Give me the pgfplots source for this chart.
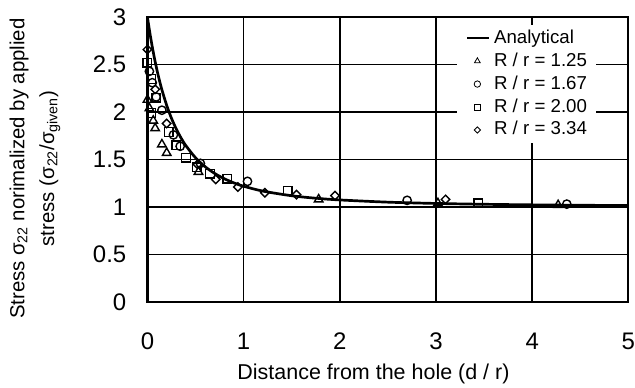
\documentclass[border=0pt]{standalone}
\usepackage{fontspec}
\setmainfont{Liberation Sans}
\usepackage{pgfplots}
\pgfplotsset{compat=1.18}
\begin{document}
\begin{tikzpicture}
\begin{axis}[
  width=481.6pt, height=285pt, scale only axis,
  xmin=0, xmax=5, ymin=0, ymax=3,
  xtick={0,1,2,3,4,5},
  ytick={0,0.5,1,1.5,2,2.5,3},
  /pgf/number format/assume math mode=true,
  grid=major,
  major grid style={black, line width=1.6pt},
  axis line style={black, line width=2.3pt},
  major tick length=0pt,
  clip=false,
  ticklabel style={font=\fontsize{24}{28}\selectfont, inner sep=0pt},
  xticklabel style={anchor=base, yshift=-47.7pt},
  yticklabel style={anchor=east, xshift=-21pt},
  xlabel={Distance from the hole (d / r)},
  xlabel style={font=\fontsize{21.5}{26}\selectfont, at={(axis description cs:0.470,-0.2726)}, anchor=base},
  ylabel={Stress σ\textsubscript{22} norimalized by applied\\stress (σ\textsubscript{22}/σ\textsubscript{given})},
  ylabel style={font=\fontsize{20.4}{30}\selectfont, align=center, at={(axis description cs:-0.234,0.468)}, anchor=center},
  legend style={at={(axis description cs:0.644,0.973)}, anchor=north west,
    draw=none, fill=white, inner xsep=8.7pt, inner ysep=4pt,
    font=\fontsize{18.7}{22}\selectfont, row sep=5pt, column sep=3.4pt,
    nodes={inner sep=0pt, text height=14pt, text depth=4pt}},
  legend cell align=left,
]
% analytical curve
\addplot[black, line width=2.7pt, smooth, forget plot] coordinates {
(0,3) (0.01,2.9316) (0.02,2.8664) (0.03,2.8040) (0.05,2.6876) (0.075,2.5559)
(0.1,2.4377) (0.125,2.3315) (0.15,2.2357) (0.2,2.0706) (0.25,1.9344)
(0.3,1.8211) (0.35,1.7260) (0.4,1.6456) (0.5,1.5185) (0.6,1.4242)
(0.7,1.3526) (0.8,1.2972) (0.9,1.2536) (1.0,1.2188) (1.2,1.1673)
(1.5,1.1184) (1.75,1.0923) (2.0,1.0741) (2.5,1.0508) (3.0,1.0371)
(3.5,1.0284) (4.0,1.0224) (4.5,1.0182) (5.0,1.0150)};
% R/r = 1.25
\addplot[only marks, mark=triangle, mark size=4.9pt, mark options={black, line width=1.4pt}, forget plot] coordinates {
(0.00,2.13) (0.02,2.04) (0.06,1.91) (0.08,1.83) (0.15,1.66) (0.20,1.57)
(0.53,1.37) (1.78,1.08) (3.02,1.04) (4.27,1.02)};
% R/r = 1.67
\addplot[only marks, mark=o, mark size=4.2pt, mark options={black, line width=1.4pt}, forget plot] coordinates {
(0.02,2.43) (0.05,2.31) (0.09,2.16) (0.15,2.02) (0.27,1.76) (0.34,1.64)
(0.55,1.46) (1.04,1.27) (2.70,1.07) (4.36,1.03)};
% R/r = 2.00
\addplot[only marks, mark=square, mark size=4.3pt, mark options={black, line width=1.4pt}, forget plot] coordinates {
(0.00,2.52) (0.04,2.35) (0.09,2.15) (0.04,1.99) (0.22,1.79) (0.30,1.65)
(0.40,1.52) (0.51,1.42) (0.65,1.35) (0.83,1.30) (1.46,1.17) (3.44,1.04)};
% R/r = 3.34
\addplot[only marks, mark=square, mark size=3.0pt, mark options={black, line width=1.4pt, rotate=45}, forget plot] coordinates {
(0.00,2.66) (0.08,2.24) (0.20,1.88) (0.52,1.45) (0.71,1.29) (0.94,1.21)
(1.22,1.15) (1.55,1.13) (1.95,1.12) (3.10,1.08)};
\addlegendimage{legend image code/.code={\draw[black, line width=2.7pt] (0pt,0pt) -- (22pt,0pt);}}
\addlegendentry{Analytical}
\addlegendimage{legend image code/.code={\path (0pt,0pt) (22pt,0pt); \draw[black, line width=0.8pt] plot[mark=triangle, mark size=3.3pt] coordinates {(10pt,0pt)};}}
\addlegendentry{R / r = 1.25}
\addlegendimage{legend image code/.code={\path (0pt,0pt) (22pt,0pt); \draw[black, line width=0.8pt] plot[mark=o, mark size=3.2pt] coordinates {(10pt,0pt)};}}
\addlegendentry{R / r = 1.67}
\addlegendimage{legend image code/.code={\path (0pt,0pt) (22pt,0pt); \draw[black, line width=0.8pt] plot[mark=square, mark size=3.0pt] coordinates {(10pt,0pt)};}}
\addlegendentry{R / r = 2.00}
\addlegendimage{legend image code/.code={\path (0pt,0pt) (22pt,0pt); \draw[black, line width=0.8pt] plot[mark=square, mark size=2.2pt, mark options={rotate=45}] coordinates {(10pt,0pt)};}}
\addlegendentry{R / r = 3.34}
\end{axis}
\path ([xshift=-147.7pt,yshift=-84.7pt]current axis.south west) rectangle ([xshift=5.7pt,yshift=17.3pt]current axis.north east);
\end{tikzpicture}
\end{document}
